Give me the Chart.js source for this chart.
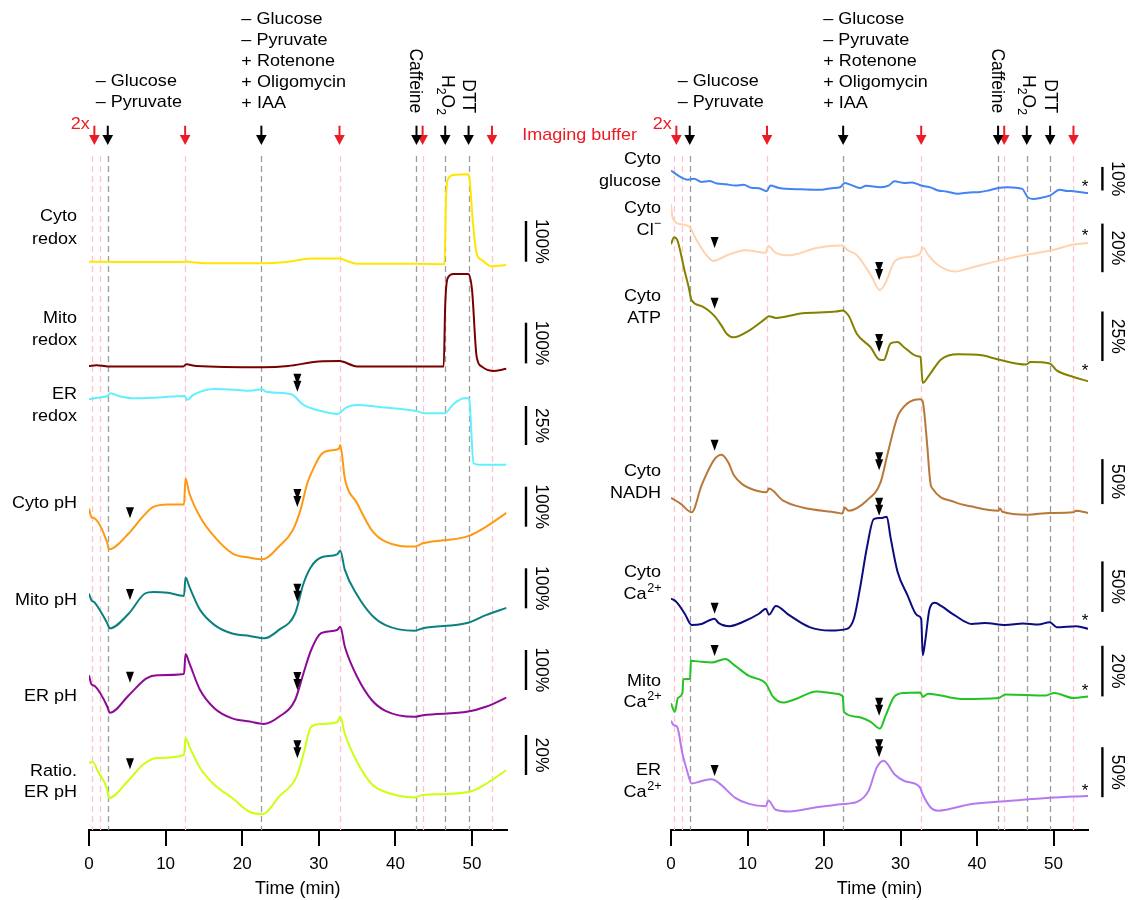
<!DOCTYPE html>
<html>
<head>
<meta charset="utf-8">
<script src="https://cdn.jsdelivr.net/npm/chart.js@4.4.1/dist/chart.umd.min.js"></script>
<style>
  body { margin: 0; background: #fff; }
  #wrap { position: relative; width: 1131px; height: 900px; }
  canvas { position: absolute; left: 0; top: 0; }
</style>
</head>
<body>
<div id="wrap">
  <canvas id="left" width="1131" height="900"></canvas>
  <canvas id="right" width="1131" height="900"></canvas>
</div>
<script>
// ---- events (min) ----
const pinkTimes = [0.4, 1.4, 12.55, 32.7, 43.55, 52.6];
const grayTimes = [2.45, 22.5, 42.75, 46.5, 49.55];
const redArrowTimes = [0.7, 12.55, 32.7, 43.55, 52.6];
const blackArrowTimes = [2.45, 22.5, 42.75, 46.5, 49.55];
const stepOneText = ['– Glucose', '– Pyruvate'];
const stepTwoText = ['– Glucose', '– Pyruvate', '+ Rotenone', '+ Oligomycin', '+ IAA'];
const xTicks = [0, 10, 20, 30, 40, 50];

// ---- left panel traces (% change) ----
const cytoRedoxT = [0, 5, 10, 12.5, 12.7, 13.2, 16.4, 22.4, 24, 26, 29, 32.7, 33.5, 35, 42.5, 46.4, 46.6, 46.8, 47.6, 49.5, 49.7, 50.1, 50.6, 51.3, 52.5, 54.5];
const cytoRedoxV = [0, -1, -1, -1, 1, -1, -4, -4, -3, 0, 8, 8, 3, -5, -5, -6, 150, 200, 213, 215, 200, 100, 20, 4, -11, -8];
const mitoRedoxT = [0, 1, 2.5, 12.3, 12.7, 14, 22.7, 26, 30, 32.7, 35, 46.3, 46.5, 46.8, 47.6, 49.5, 50, 50.6, 51.3, 52.7, 54.5];
const mitoRedoxV = [0, 2, -1, -1, 4, 0, -3, 0, 11, 12, -1, -1, 150, 215, 226, 226, 187, 23, -2, -12, -7];
const erRedoxT = [0, 1, 2.4, 2.8, 4, 6.1, 9, 12.5, 12.8, 13.6, 16.4, 19, 21, 22.6, 23.1, 26.4, 28, 30.3, 32.4, 33.6, 35, 38, 42.7, 43.9, 46.4, 47.6, 49, 49.6, 50.2, 51, 54.5];
const erRedoxV = [0, 1, 2.1, 3.9, 2, 0.6, 1.2, 2.1, -0.4, 2.8, 6.6, 6.2, 5.5, 6.4, 4.9, 3.2, -3.6, -7.5, -9.4, -5.2, -3.7, -5, -7.5, -9, -9, -3, 0.6, 0.6, -41, -42, -42];
const cytoPhT = [0, 0.3, 0.75, 2.4, 2.6, 5.2, 7, 8.4, 10.3, 12.4, 12.6, 13.1, 14.5, 16.4, 18.7, 21, 22.7, 24.8, 26.6, 27.6, 28.5, 29.4, 30.3, 31.5, 32.6, 32.8, 33.4, 35, 36.9, 38.7, 42.5, 43.6, 49.5, 51.8, 54.5];
const cytoPhV = [127, 106, 102, 40, 25, 65, 106, 131, 137, 137, 202, 165, 106, 56, 15, 4, 0, 32, 73, 123, 190, 231, 262, 272, 276, 286, 202, 140, 73, 44, 32, 40, 58, 81, 116];
const mitoPhT = [0, 0.3, 0.75, 2.4, 2.7, 5.2, 7.3, 8.4, 10.3, 12.4, 12.6, 13.1, 14.5, 16.4, 18.7, 21, 22.9, 24.8, 26.9, 28, 29, 30.3, 32.4, 32.8, 33.4, 35, 36.9, 38.7, 42.5, 43.6, 49.5, 51.8, 54.5];
const mitoPhV = [112, 96, 89, 37, 25, 62, 112, 116, 114, 106, 152, 129, 71, 33, 12, 6, 0, 21, 62, 137, 179, 202, 210, 219, 171, 108, 58, 33, 19, 25, 39, 58, 76];
const erPhT = [0, 0.3, 0.75, 2.4, 2.7, 5.2, 7.5, 8.9, 12.4, 12.6, 13.1, 14.5, 16.4, 18.7, 21, 22.8, 24.8, 26.9, 28, 29, 30.3, 32.4, 32.8, 33.4, 35, 36.9, 38.7, 42.5, 43.6, 49.5, 51.8, 54.5];
const erPhV = [122, 100, 95, 43, 28, 72, 114, 122, 125, 175, 152, 85, 39, 14, 6, 0, 18, 60, 127, 185, 227, 235, 243, 193, 118, 60, 33, 18, 22, 31, 43, 66];
const ratioPhT = [0, 0.5, 1.2, 2.4, 2.6, 5.2, 7, 8.9, 12.4, 12.6, 13.1, 14.5, 16.4, 18.7, 21, 22.7, 24.8, 27.1, 28, 29, 30.3, 32.4, 32.8, 33.4, 35, 36.9, 38.7, 42.5, 43.6, 46.7, 50, 51.8, 54.5];
const ratioPhV = [25.6, 26, 21, 12, 8, 17, 24.5, 28, 29.5, 38, 33.7, 23, 14.5, 8, 1, 0, 8.7, 18.7, 30, 43.7, 45, 46, 48.7, 40, 26, 15, 11, 8.3, 9.5, 10, 11.5, 15, 22];

// ---- right panel traces (% change) ----
const glucoseT = [0, 0.9, 2.2, 3, 4, 5, 6, 7.2, 8.4, 9.5, 10.5, 11.5, 12.5, 13, 14, 15, 17, 19.4, 21, 22.1, 22.7, 23.5, 24.7, 25.5, 27.4, 28.5, 29.2, 30.5, 31.5, 32.7, 34, 34.9, 36, 37.5, 39, 40.2, 41.5, 42.8, 44, 45.9, 46.6, 47.3, 48.5, 49.5, 50.8, 51.8, 52.6, 54.5];
const glucoseV = [8.5, 6.4, 4.6, 5, 3.6, 4, 3, 2.6, 2.1, 2.4, 1.2, 1, -0.3, 2.1, 1.2, 0.7, 0.5, 0.3, 1, 1.4, 3.2, 2.4, 1.1, 2, 1.4, 2.2, 3.9, 3.2, 3.4, 2.1, 1.2, 0, -0.4, -1.4, -0.8, -0.7, 0, 1.1, 1.4, 0.7, -2.8, -3.6, -3, -2.2, 0.3, -0.2, -0.3, -1.1];
const chlorideT = [0, 0.2, 1.3, 2.4, 3.3, 4.4, 5.5, 7.5, 9.7, 12.4, 12.7, 13.7, 15.5, 19, 22.4, 23, 24.3, 26.1, 27.3, 28, 29.2, 30.5, 32.5, 32.9, 33.6, 34.9, 37.1, 39.3, 42.8, 46.4, 49.9, 52.6, 54.5];
const chlorideV = [28, 22.5, 19.8, 18.7, 13.5, 8, 4.7, 7.2, 9.1, 8, 10.8, 8, 7, 10, 11, 9.3, 7, -1.1, -7.3, -4.6, 4.4, 6.1, 7.5, 10.2, 7.2, 3, 0.3, 2, 4.7, 7.2, 9.2, 11.4, 12.1];
const atpT = [0, 0.4, 0.8, 1.8, 2.3, 2.7, 4, 5.7, 6.6, 7.3, 8.2, 10.2, 12.3, 12.8, 13.7, 17.2, 21.6, 22.4, 23.2, 24.3, 26.1, 27.2, 27.8, 28.7, 29.6, 30.5, 32.2, 32.6, 32.9, 33.8, 35.3, 37.5, 40.6, 42.8, 46.4, 47, 49.5, 50.4, 52.6, 54.5];
const atpV = [59, 62.6, 61.4, 45.2, 37.5, 30.7, 27.8, 22.7, 17.9, 13.7, 12, 15.4, 21.3, 22.7, 21.8, 24.2, 25, 25.6, 23, 13.7, 6.9, 0.8, 0.5, 9, 9.7, 6.9, 2.5, 2.2, -11, -6.8, 0.8, 3.4, 2.9, 0.8, -1.7, -0.5, -1.2, -4.7, -8, -10.2];
const nadhT = [0, 1.3, 2.7, 4, 5.7, 6.6, 7.5, 8.2, 9.3, 11.5, 12.5, 12.8, 14.6, 17.2, 21.6, 22.4, 22.7, 23.2, 25.6, 27.4, 28.3, 29.6, 30.9, 32.6, 32.9, 33.4, 33.9, 34.2, 37.1, 39.3, 42.8, 43, 43.3, 46.6, 49.5, 52.6, 52.9, 54.5];
const nadhV = [18.8, 12, 2.6, 32.7, 61.7, 66.7, 58, 44, 34, 26, 25, 29, 16, 8, 2.5, 1.4, 8, 4.4, 15.8, 36.3, 67.4, 108.7, 123.7, 128.2, 125.6, 86, 35.4, 28.8, 13.9, 9, 4.4, 7, 3.3, 0, 1.9, 2.6, 4.4, 1.9];
const cytoCaT = [0, 0.7, 1.8, 2.7, 4, 5.7, 6.2, 7.7, 9.3, 11.5, 12.4, 12.8, 13.7, 15.5, 18.1, 20.8, 23, 23.9, 24.7, 25.6, 26.5, 27.4, 28.2, 28.7, 29.6, 30.9, 32.2, 32.7, 32.9, 33.2, 33.8, 34.5, 35.3, 37.1, 39.3, 41, 43.7, 46, 48, 49.5, 50.4, 53, 54.5];
const cytoCaV = [31.8, 28.4, 16.7, 5.6, 6.6, 11.7, 7.7, 4.4, 8.3, 16.7, 21.7, 15.7, 24.4, 15, 3.4, 0, 1.7, 11.7, 41.8, 82, 110.4, 111.4, 112.7, 92, 58.6, 35.2, 15, 11.7, -24.4, -11.7, 21.7, 27.6, 24.4, 15, 6.6, 7.5, 5.6, 7, 6, 8.3, 3.4, 4.4, 1.7];
const mitoCaT = [0, 0.5, 0.9, 1.5, 1.6, 2.5, 2.6, 4, 5.3, 7.1, 8.4, 10.2, 12.4, 13.3, 14.6, 16.3, 19, 21.6, 22.45, 22.6, 24.3, 26.1, 27.3, 28, 29.2, 30.5, 32.6, 32.9, 33.6, 38, 42.8, 43.7, 49, 50.1, 52.6, 54.5];
const mitoCaV = [10, 6.6, 12.1, 14.1, 19.5, 19.7, 26.8, 26.4, 26.1, 27.5, 24.8, 20.8, 17.8, 12.7, 10.3, 11.7, 14.7, 13.8, 12.7, 6.6, 4.7, 2.7, 0, 4.7, 12.7, 14.1, 14.3, 12.5, 13.8, 11.7, 12.1, 13.5, 13.1, 14.1, 12.1, 12.7];
const erCaT = [0, 0.35, 0.8, 1.5, 2.1, 2.7, 4, 5.3, 6.2, 8.4, 10.2, 12.4, 12.7, 13.7, 15.5, 19, 22.5, 24.3, 25.8, 26.9, 27.8, 29.2, 30.5, 32.5, 32.9, 34, 34.9, 39.3, 43.7, 49.5, 54.5];
const erCaV = [90.6, 86.2, 84.5, 57.5, 40.6, 27.8, 30.4, 32.1, 28.8, 13.6, 7.5, 5.1, 10.9, 1.7, 0, 4.1, 7.5, 9.5, 20.3, 44, 50.7, 37.2, 30.4, 24.4, 16.9, 3.4, 0.7, 7.5, 10.2, 13.6, 15.3];

const FONT = '"Liberation Sans", Arial, Helvetica, sans-serif';
const SX = 1.06;            // text in the figure is a little wide
const AREA_TOP = 150, AREA_BOTTOM = 830;

// layout: base = pixel row of 0 %, gain = px per %, bar = scale bar (%)
const leftPanel = {
  id: 'left', x0: 89, x1: 506.5, labelGap: 12, barGap: 19.5,
  single: 5.35, double: 27.2,
  traces: [
    { lines: ['Cyto', 'redox'], labelY: [216, 239.3], color: '#ffe600', t: cytoRedoxT, v: cytoRedoxV, base: 261.7, gain: 0.407, bar: 100, barTop: 221 },
    { lines: ['Mito', 'redox'], labelY: [318.3, 340.7], color: '#7a0000', t: mitoRedoxT, v: mitoRedoxV, base: 366, gain: 0.407, bar: 100, barTop: 322.7 },
    { lines: ['ER', 'redox'], labelY: [394.3, 416.7], color: '#62f0ff', t: erRedoxT, v: erRedoxV, base: 399.3, gain: 1.56, bar: 25, barTop: 406, dbl: 4.9 },
    { lines: ['Cyto pH'], labelY: [503.3], color: '#ff9912', t: cytoPhT, v: cytoPhV, base: 559.3, gain: 0.4, bar: 100, barTop: 486.7, sgl: 102.5, dbl: 131 },
    { lines: ['Mito pH'], labelY: [600.7], color: '#0b8080', t: mitoPhT, v: mitoPhV, base: 638.3, gain: 0.4, bar: 100, barTop: 568.3, sgl: 96, dbl: 91.5 },
    { lines: ['ER pH'], labelY: [696], color: '#8c0a96', t: erPhT, v: erPhV, base: 724, gain: 0.4, bar: 100, barTop: 650, sgl: 103, dbl: 85 },
    { lines: ['Ratio.', 'ER pH'], labelY: [771, 792.7], color: '#ccff10', t: ratioPhT, v: ratioPhV, base: 814, gain: 2, bar: 20, barTop: 735, sgl: 22.4, dbl: 27.9 }
  ]
};
const rightPanel = {
  id: 'right', x0: 671, x1: 1088, labelGap: 10, barGap: 14.4,
  single: 5.7, double: 27.2, buffer: true,
  traces: [
    { lines: ['Cyto', 'glucose'], labelY: [159.3, 181.7], color: '#4184f2', t: glucoseT, v: glucoseV, base: 190.5, gain: 2.36, bar: 10, barTop: 166.9, star: 3.6 },
    { lines: ['Cyto', 'Cl^−'], labelY: [208.3, 230], color: '#ffd3b0', t: chlorideT, v: chlorideV, base: 272.3, gain: 2.43, bar: 20, barTop: 223.6, sgl: 10, dbl: -3.2, star: 17 },
    { lines: ['Cyto', 'ATP'], labelY: [296, 318.3], color: '#848000', t: atpT, v: atpV, base: 361.1, gain: 1.98, bar: 25, barTop: 311.5, sgl: 26.4, dbl: 4.6, star: -2.5 },
    { lines: ['Cyto', 'NADH'], labelY: [471.8, 493.8], color: '#b8783a', t: nadhT, v: nadhV, base: 514.7, gain: 0.9, bar: 50, barTop: 459.1, sgl: 71, dbl: 49.3 },
    { lines: ['Cyto', 'Ca^2+'], labelY: [572.5, 594.5], color: '#0c0c7e', t: cytoCaT, v: cytoCaV, base: 630.6, gain: 1.01, bar: 50, barTop: 561.4, sgl: 16.7, dbl: 113.8, star: 14.5 },
    { lines: ['Mito', 'Ca^2+'], labelY: [681.3, 702.6], color: '#22c322', t: mitoCaT, v: mitoCaV, base: 728.6, gain: 2.53, bar: 20, barTop: 645.8, sgl: 28.7, dbl: 5.1, star: 17 },
    { lines: ['ER', 'Ca^2+'], labelY: [770, 792.8], color: '#b57af0', t: erCaT, v: erCaV, base: 811.4, gain: 1.0, bar: 50, barTop: 747.2, sgl: 35.4, dbl: 54.1, star: 25.4 }
  ]
};

const level = (tr, pct) => AREA_BOTTOM - tr.base + pct * tr.gain;

function drawRich(ctx, str, x, y, align, size, color) {
  const [main, sup] = str.split('^');
  ctx.font = size + 'px ' + FONT;
  const w1 = ctx.measureText(main).width;
  let w2 = 0;
  if (sup) { ctx.font = (size * 0.7) + 'px ' + FONT; w2 = ctx.measureText(sup).width; }
  const total = (w1 + w2) * SX;
  const x0 = align === 'right' ? x - total : align === 'center' ? x - total / 2 : x;
  ctx.save();
  ctx.translate(x0, y);
  ctx.scale(SX, 1);
  ctx.fillStyle = color;
  ctx.textAlign = 'left';
  ctx.textBaseline = 'middle';
  ctx.font = size + 'px ' + FONT;
  ctx.fillText(main, 0, 0);
  if (sup) { ctx.font = (size * 0.7) + 'px ' + FONT; ctx.fillText(sup, w1 + 0.5, -size * 0.36); }
  ctx.restore();
}

// vertical text reading downwards, baseline on the left
function drawVertical(ctx, parts, x, yEnd, size) {
  ctx.save();
  ctx.translate(x, yEnd);
  ctx.rotate(Math.PI / 2);
  ctx.fillStyle = '#000';
  ctx.textAlign = 'left';
  ctx.textBaseline = 'alphabetic';
  const widths = parts.map(p => { ctx.font = (p.sub ? size * 0.7 : size) + 'px ' + FONT; return ctx.measureText(p.t).width; });
  let cx = -widths.reduce((a, b) => a + b, 0);
  parts.forEach((p, i) => {
    ctx.font = (p.sub ? size * 0.7 : size) + 'px ' + FONT;
    ctx.fillText(p.t, cx, p.sub ? size * 0.3 : 0);
    cx += widths[i];
  });
  ctx.restore();
}

function arrow(ctx, x, color) {
  ctx.fillStyle = color;
  ctx.strokeStyle = color;
  ctx.lineWidth = 2;
  ctx.beginPath(); ctx.moveTo(x, 125.7); ctx.lineTo(x, 138); ctx.stroke();
  ctx.beginPath(); ctx.moveTo(x - 5.3, 135); ctx.lineTo(x + 5.3, 135); ctx.lineTo(x, 145); ctx.closePath(); ctx.fill();
}

function head(ctx, x, tip) {
  ctx.beginPath(); ctx.moveTo(x - 4, tip - 11); ctx.lineTo(x + 4, tip - 11); ctx.lineTo(x, tip); ctx.closePath(); ctx.fill();
}

function makeDecor(panel) {
  return {
    id: 'decor_' + panel.id,
    beforeDatasetsDraw(chart) {
      const { ctx, scales: { x } } = chart;
      ctx.save();
      ctx.lineWidth = 1.3;
      ctx.setLineDash([6, 4]);
      const vline = (t, c) => {
        const px = Math.round(x.getPixelForValue(t)) + 0.5;
        ctx.strokeStyle = c;
        ctx.beginPath(); ctx.moveTo(px, 156); ctx.lineTo(px, AREA_BOTTOM); ctx.stroke();
      };
      pinkTimes.forEach(t => vline(t, '#ffc2d2'));
      grayTimes.forEach(t => vline(t, '#9c9c9c'));
      ctx.restore();
    },
    afterDraw(chart) {
      const { ctx, chartArea, scales: { x, y } } = chart;
      ctx.save();
      // trace names, scale bars, arrowheads, stars
      panel.traces.forEach(tr => {
        tr.lines.forEach((ln, i) => drawRich(ctx, ln, chartArea.left - panel.labelGap, tr.labelY[i], 'right', 17, '#000'));
        const bx = chartArea.right + panel.barGap;
        const barLen = tr.bar * tr.gain;
        ctx.strokeStyle = '#000'; ctx.lineWidth = 2.4;
        ctx.beginPath(); ctx.moveTo(bx, tr.barTop); ctx.lineTo(bx, tr.barTop + barLen); ctx.stroke();
        ctx.save();
        ctx.translate(bx + 10, tr.barTop + barLen / 2);
        ctx.rotate(Math.PI / 2);
        ctx.fillStyle = '#000'; ctx.font = '17.5px ' + FONT;
        ctx.textAlign = 'center'; ctx.textBaseline = 'alphabetic';
        ctx.fillText(tr.bar + '%', 0, 0);
        ctx.restore();
        ctx.fillStyle = '#000';
        if (tr.sgl !== undefined) head(ctx, x.getPixelForValue(panel.single), y.getPixelForValue(level(tr, tr.sgl)));
        if (tr.dbl !== undefined) {
          const px = x.getPixelForValue(panel.double), tip = y.getPixelForValue(level(tr, tr.dbl));
          head(ctx, px, tip - 7); head(ctx, px, tip);
        }
        if (tr.star !== undefined) {
          ctx.font = '17px ' + FONT; ctx.textAlign = 'center'; ctx.textBaseline = 'alphabetic';
          ctx.fillText('*', x.getPixelForValue(54.1), y.getPixelForValue(level(tr, tr.star)) + 10);
        }
      });
      // treatment arrows
      redArrowTimes.forEach(t => arrow(ctx, x.getPixelForValue(t), '#ec1c24'));
      blackArrowTimes.forEach(t => arrow(ctx, x.getPixelForValue(t), '#000'));
      drawRich(ctx, '2x', x.getPixelForValue(redArrowTimes[0]) - 4.5, 124.3, 'right', 17, '#ec1c24');
      if (panel.buffer) drawRich(ctx, 'Imaging buffer', chartArea.left - 34, 135, 'right', 17, '#ec1c24');
      // treatment texts
      const e1 = x.getPixelForValue(blackArrowTimes[0]) - 12;
      stepOneText.forEach((s, i) => drawRich(ctx, s, e1, 81.7 + i * 21, 'left', 17, '#000'));
      const e2 = x.getPixelForValue(blackArrowTimes[1]) - 20;
      stepTwoText.forEach((s, i) => drawRich(ctx, s, e2, 19.7 + i * 21, 'left', 17, '#000'));
      drawVertical(ctx, [{ t: 'Caffeine' }], x.getPixelForValue(blackArrowTimes[2]) - 6.5, 113.3, 17.5);
      drawVertical(ctx, [{ t: 'H' }, { t: '2', sub: true }, { t: 'O' }, { t: '2', sub: true }], x.getPixelForValue(blackArrowTimes[3]) - 3.3, 115, 17.5);
      drawVertical(ctx, [{ t: 'DTT' }], x.getPixelForValue(blackArrowTimes[4]) - 5.5, 113.3, 17.5);
      ctx.restore();
    }
  };
}

function setupPanel(panel) {
  new Chart(document.getElementById(panel.id), {
    type: 'line',
    data: {
      datasets: panel.traces.map(tr => ({
        data: tr.t.map((t, i) => ({ x: t, y: level(tr, tr.v[i]) })),
        borderColor: tr.color,
        borderWidth: 2,
        pointRadius: 0,
        fill: false,
        cubicInterpolationMode: 'monotone'
      }))
    },
    options: {
      responsive: false,
      animation: false,
      devicePixelRatio: 1,
      events: [],
      layout: { padding: { top: AREA_TOP, left: panel.x0, right: 1131 - panel.x1, bottom: 0 } },
      plugins: { legend: { display: false }, tooltip: { enabled: false } },
      scales: {
        x: {
          type: 'linear', min: 0, max: 54.5,
          afterFit: s => { s.height = 900 - AREA_BOTTOM; },
          afterBuildTicks: s => { s.ticks = xTicks.map(v => ({ value: v })); },
          border: { display: true, color: '#000', width: 2 },
          grid: { drawOnChartArea: false, color: '#000', lineWidth: 2, tickLength: 16 },
          ticks: { color: '#000', padding: 8, maxRotation: 0, font: { size: 17, family: FONT } },
          title: { display: true, text: 'Time (min)', color: '#000', padding: 0, font: { size: 18, family: FONT } }
        },
        y: { display: false, min: 0, max: AREA_BOTTOM - AREA_TOP }
      }
    },
    plugins: [makeDecor(panel)]
  });
}

setupPanel(leftPanel);
setupPanel(rightPanel);
</script>
</body>
</html>
